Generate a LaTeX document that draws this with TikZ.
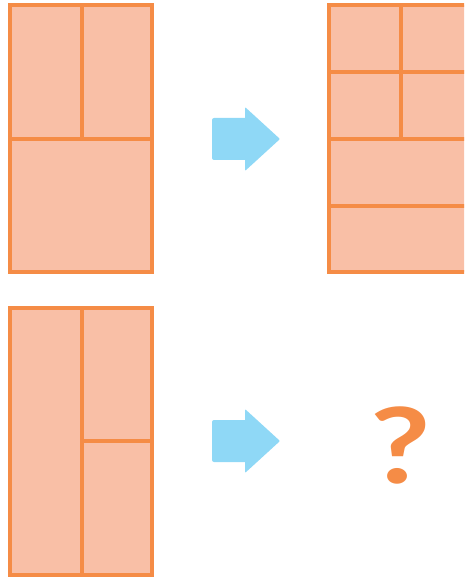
\documentclass[tikz,border=0pt]{standalone}
\usepackage{fontspec}
\newfontfamily\qfont{Lato}
\definecolor{peach}{RGB}{249,191,166}
\definecolor{tangerine}{RGB}{245,140,70}
\definecolor{skyblue}{RGB}{143,216,246}

\begin{document}
\begin{tikzpicture}[x=1pt, y=-1pt,
    panel/.style={fill=peach, draw=tangerine, line width=3.4pt},
    divider/.style={draw=tangerine, line width=3.4pt},
    blockarrow/.style={fill=skyblue}]

    \useasboundingbox (0,0) rectangle (464,577);
    \clip (0,0) rectangle (464,577);

    % (a) Top left: two squares over one block
    \draw[panel] (10,5) rectangle (152,272);
    \draw[divider] (10,139) -- (152,139);
    \draw[divider] (82,5) -- (82,139);

    % (b) Top right: four squares over two strips
    \draw[panel] (329,5) rectangle (471,272);
    \foreach \y in {72,139,206} {
        \draw[divider] (329,\y) -- (471,\y);
    }
    \draw[divider] (401,5) -- (401,139);

    % (c) Bottom left: tall strip beside two squares
    \draw[panel] (10,308) rectangle (152,575);
    \draw[divider] (82,308) -- (82,575);
    \draw[divider] (82,441) -- (152,441);

    % Arrows
    \foreach \dy in {0,302} {
        \fill[blockarrow, rounded corners=2pt] (212,118+\dy) rectangle (247,160+\dy);
        \fill[blockarrow, rounded corners=1pt] (245,107+\dy) -- (280,139+\dy) -- (245,171+\dy) -- cycle;
    }

    % Unknown result
    \node[text=tangerine, inner sep=0pt, xscale=1.25, font=\qfont\bfseries\fontsize{105}{105}\selectfont] (qmark) at (401,445) {?};

\end{tikzpicture}
\end{document}
